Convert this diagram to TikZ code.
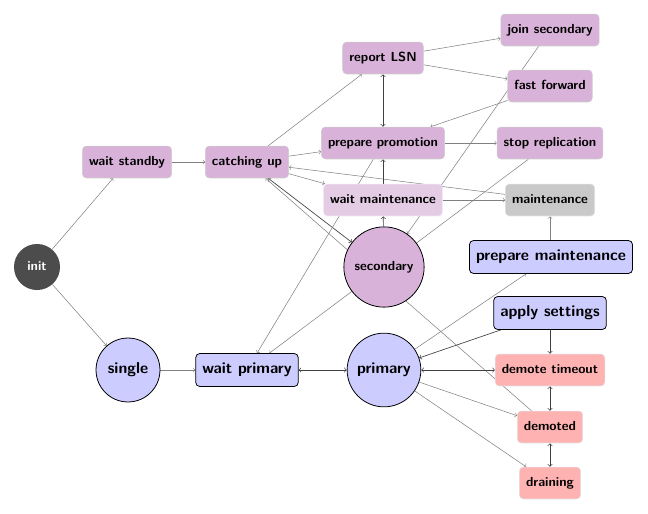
\documentclass[tikz,border=0pt]{standalone}
\usetikzlibrary{backgrounds}
\begin{document}
\begin{tikzpicture}[x=0.76pt,y=-0.76pt,
  lbl/.style={font=\sffamily\bfseries, text height=1.6ex, text depth=0.45ex},
  pbox/.style={lbl, rectangle, rounded corners=3pt, fill=violet!30, draw=black!20, minimum height=24.3pt, inner xsep=5pt},
  lbox/.style={pbox, fill=violet!20, draw=violet!10},
  gbox/.style={pbox, fill=black!21, draw=black!12},
  rbox/.style={pbox, fill=red!30, draw=black!12},
  bbox/.style={lbl, font=\sffamily\bfseries\large, rectangle, rounded corners=3pt, fill=blue!20, draw=black, line width=0.6pt, minimum height=25pt, inner xsep=5pt},
  bcirc/.style={lbl, font=\sffamily\bfseries\large, circle, fill=blue!20, draw=black, line width=0.6pt, inner sep=0pt},
  pcirc/.style={lbl, circle, fill=violet!30, draw=black, line width=0.6pt, inner sep=0pt},
  icirc/.style={lbl, circle, fill=black!70, text=white, inner sep=0pt},
  edge/.style={draw=black!50, line width=0.4pt, ->},
  dedge/.style={draw=black!75, line width=0.5pt, ->},
]
\useasboundingbox (0,0) rectangle (648,514);

% nodes
\node[icirc, minimum size=35pt] (init) at (37,267) {init};
\node[bcirc, minimum size=48.6pt] (single) at (128,370) {single};
\node[bbox] (waitprimary) at (247,370) {wait primary};
\node[bcirc, minimum size=56pt] (primary) at (384,370) {primary};
\node[pcirc, minimum size=61pt] (secondary) at (384,267) {secondary};
\node[pbox] (waitstandby) at (127,162) {wait standby};
\node[pbox] (catchingup) at (247,162) {catching up};
\node[pbox] (preparepromotion) at (383,143) {prepare promotion};
\node[pbox] (reportlsn) at (383,58) {report LSN};
\node[pbox] (joinsecondary) at (550,30) {join secondary};
\node[pbox] (fastforward) at (550,86) {fast forward};
\node[pbox] (stopreplication) at (550,143) {stop replication};
\node[lbox] (waitmaintenance) at (383,200) {wait maintenance};
\node[gbox] (maintenance) at (550,200) {maintenance};
\node[bbox] (preparemaintenance) at (551,257) {prepare maintenance};
\node[bbox] (applysettings) at (550,313) {apply settings};
\node[rbox] (demotetimeout) at (550,370) {demote timeout};
\node[rbox] (demoted) at (550,427) {demoted};
\node[rbox] (draining) at (550,483) {draining};

\begin{pgfonlayer}{background}
\draw[edge] (init) -- (waitstandby);
\draw[edge] (init) -- (single);
\draw[edge] (waitstandby) -- (catchingup);
\draw[edge] (single) -- (waitprimary);
\draw[dedge,<->] (waitprimary) -- (primary);
\draw[edge] (catchingup) -- (reportlsn);
\draw[edge] (catchingup) -- (preparepromotion);
\draw[edge] (catchingup) -- (waitmaintenance);
\draw[edge] (maintenance) -- (catchingup);
\draw[dedge,<->] (catchingup) -- (secondary);
\draw[edge] (demoted) -- (catchingup);
\draw[edge] (reportlsn) -- (joinsecondary);
\draw[edge] (reportlsn) -- (fastforward);
\draw[dedge,<->] (reportlsn) -- (preparepromotion);
\draw[edge] (fastforward) -- (preparepromotion);
\draw[edge] (preparepromotion) -- (stopreplication);
\draw[edge] (preparepromotion) -- (waitprimary);
\draw[edge] (stopreplication) -- (waitprimary);
\draw[edge] (joinsecondary) -- (secondary);
\draw[dedge] (waitmaintenance) -- (preparepromotion);
\draw[dedge] (secondary) -- (waitmaintenance);
\draw[edge] (waitmaintenance) -- (maintenance);
\draw[edge] (preparemaintenance.north -| maintenance) -- (maintenance);
\draw[edge] (primary) -- (preparemaintenance);
\draw[dedge] (applysettings) -- (primary);
\draw[dedge] (applysettings) -- (demotetimeout);
\draw[dedge,<->] (primary) -- (demotetimeout);
\draw[dedge,<->] (demotetimeout) -- (demoted);
\draw[dedge,<->] (demoted) -- (draining);
\draw[edge] (primary) -- (demoted);
\draw[edge] (primary) -- (draining);
\end{pgfonlayer}
\end{tikzpicture}
\end{document}
